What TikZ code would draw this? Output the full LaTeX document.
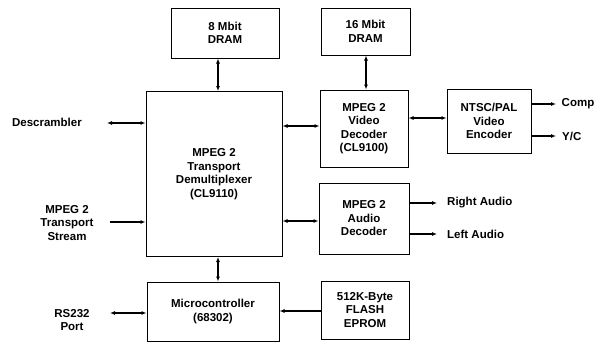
\documentclass[tikz,border=0pt]{standalone}
\usepackage{fontspec}
\setmainfont{Liberation Sans}
\usetikzlibrary{arrows.meta}

\begin{document}
\begin{tikzpicture}[x=1pt, y=-1pt,
    block/.style={draw=borderColour, line width=1pt, align=center, inner sep=0pt,
                  font=\bfseries\fontsize{11.5}{13.5}\selectfont},
    tag/.style={align=center, inner sep=0pt, font=\bfseries\fontsize{11.5}{13.5}\selectfont},
    link/.style={line width=1.1pt, {Latex[length=5pt,width=4pt]}-{Latex[length=5pt,width=4pt]}},
    feed/.style={line width=1.1pt, -{Latex[length=5pt,width=4pt]}}]
    % Define colours
    \definecolor{borderColour}{HTML}{000000}

    % Fix the page size
    \useasboundingbox (0,0) rectangle (596,343);

    % Draw the blocks
    \node[block, minimum width=108pt, minimum height=50pt] (dram8) at (225,33) {8 Mbit\\DRAM};
    \node[block, minimum width=136pt, minimum height=165pt] (demux) at (214,174)
        {MPEG 2\\Transport\\Demultiplexer\\(CL9110)};
    \node[block, minimum width=89pt, minimum height=47pt] (dram16) at (365.5,31.5) {16 Mbit\\DRAM};
    \node[block, minimum width=88pt, minimum height=77pt] (video) at (364,128.5)
        {MPEG 2\\Video\\Decoder\\(CL9100)};
    \node[block, minimum width=84pt, minimum height=64pt] (ntsc) at (489,121)
        {NTSC/PAL\\Video\\Encoder};
    \node[block, minimum width=90pt, minimum height=71pt] (audio) at (364,218.5)
        {MPEG 2\\Audio\\Decoder};
    \node[block, minimum width=132pt, minimum height=59pt] (micro) at (213,311.5)
        {Microcontroller\\(68302)};
    \node[block, minimum width=88pt, minimum height=58pt] (flash) at (365,310)
        {512K-Byte\\FLASH\\EPROM};

    % Outside signals
    \node[tag, anchor=east] (descr) at (82,122) {Descrambler};
    \node[tag] (stream) at (67,223) {MPEG 2\\Transport\\Stream};
    \node[tag] (rs232) at (72,320) {RS232\\Port};
    \node[tag, anchor=west] (comp) at (561.5,104) {Comp};
    \node[tag, anchor=west] (yc) at (562,136) {Y/C};
    \node[tag, anchor=west] (right) at (447,203) {Right Audio};
    \node[tag, anchor=west] (left) at (447,234) {Left Audio};

    % Free ends of the outside connectors
    \coordinate (descrEnd) at (107,123);
    \coordinate (streamEnd) at (110,222);
    \coordinate (rs232End) at (110,313);
    \coordinate (compEnd) at (556,104);
    \coordinate (ycEnd) at (556,136);
    \coordinate (rightEnd) at (437,203);
    \coordinate (leftEnd) at (437,234);

    % Draw the connectors
    \draw[link] (dram8.south -| 218,0) -- (demux.north -| 218,0);
    \draw[link] (demux.south -| 218,0) -- (micro.north -| 218,0);
    \draw[link] (dram16.south -| 366,0) -- (video.north -| 366,0);
    \draw[link] (demux.east |- 0,126) -- (video.west |- 0,126);
    \draw[link] (video.east |- 0,118) -- (ntsc.west |- 0,118);
    \draw[link] (demux.east |- 0,221) -- (audio.west |- 0,221);
    \draw[feed] (flash.west |- 0,311) -- (micro.east |- 0,311);
    \draw[link] (descrEnd) -- (demux.west |- descrEnd);
    \draw[feed] (streamEnd) -- (demux.west |- streamEnd);
    \draw[link] (rs232End) -- (micro.west |- rs232End);
    \draw[feed] (ntsc.east |- compEnd) -- (compEnd);
    \draw[feed] (ntsc.east |- ycEnd) -- (ycEnd);
    \draw[feed] (audio.east |- rightEnd) -- (rightEnd);
    \draw[feed] (audio.east |- leftEnd) -- (leftEnd);

\end{tikzpicture}
\end{document}
